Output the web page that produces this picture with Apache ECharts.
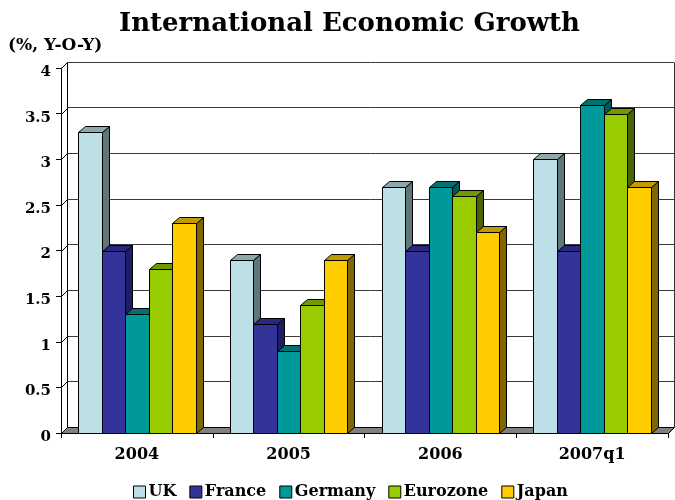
<!DOCTYPE html>
<html>
<head>
<meta charset="utf-8">
<script src="https://cdn.jsdelivr.net/npm/echarts@6/dist/echarts.min.js"></script>
<style>html,body{margin:0;padding:0;background:#fff}#c{width:675px;height:500px}</style>
</head>
<body>
<div id="c"></div>
<script>
const categories = ['2004', '2005', '2006', '2007q1'];
const seriesNames = ['UK', 'France', 'Germany', 'Eurozone', 'Japan'];
const uk = [3.3, 1.9, 2.7, 3.0];
const france = [2.0, 1.2, 2.0, 2.0];
const germany = [1.3, 0.9, 2.7, 3.6];
const eurozone = [1.8, 1.4, 2.6, 3.5];
const japan = [2.3, 1.9, 2.2, 2.7];
const yTicks = [0, 0.5, 1, 1.5, 2, 2.5, 3, 3.5, 4];

const FONT = 'DejaVu Serif';
const faceColors = [
  {front: '#BDE0E6', side: '#5F7778', top: '#8FA8AC'},
  {front: '#333399', side: '#1E1E66', top: '#28287F'},
  {front: '#009999', side: '#005A5A', top: '#007070'},
  {front: '#99CC00', side: '#4B6400', top: '#739900'},
  {front: '#FFCC00', side: '#806600', top: '#C09A00'}
];
const WDX = 6, WDY = 6;   // wall depth
const BDX = 7, BDY = 6;   // bar depth

function barRenderer(sIdx) {
  const c = faceColors[sIdx];
  return function (params, api) {
    const ci = api.value(0), v = api.value(1);
    const base = api.coord([ci, 0]);
    const tp = api.coord([ci, v]);
    const band = api.size([1, 0])[0];
    const groupW = band * 0.775;
    const w = groupW / 5;
    const x0 = Math.round(base[0] - groupW / 2 + sIdx * w) + 0.5;
    const x1 = Math.round(base[0] - groupW / 2 + (sIdx + 1) * w) + 0.5;
    const y0 = Math.round(base[1]) + 0.5;
    const y1 = Math.round(tp[1]) + 0.5;
    const st = {stroke: '#000', lineWidth: 1};
    return {
      type: 'group',
      children: [
        {type: 'polygon', shape: {points: [[x1, y1], [x1 + BDX, y1 - BDY], [x1 + BDX, y0 - BDY], [x1, y0]]},
          style: Object.assign({fill: c.side}, st)},
        {type: 'polygon', shape: {points: [[x0, y1], [x0 + BDX, y1 - BDY], [x1 + BDX, y1 - BDY], [x1, y1]]},
          style: Object.assign({fill: c.top}, st)},
        {type: 'rect', shape: {x: x0, y: y1, width: x1 - x0, height: y0 - y1},
          style: Object.assign({fill: c.front}, st)}
      ]
    };
  };
}

function wallRenderer(params, api) {
  const cs = params.coordSys;
  const t = api.value(1);
  const p = api.coord([0, t]);
  const xl = Math.round(cs.x) + 0.5;
  const y = Math.round(p[1]) + 0.5;
  const children = [
    {type: 'line', shape: {x1: xl, y1: y, x2: xl + WDX, y2: y - WDY}, style: {stroke: '#000', lineWidth: 1}}
  ];
  if (t === 0) {
    const xr = Math.round(cs.x + cs.width) + 0.5;
    const yTop = Math.round(cs.y) + 0.5;
    children.unshift({type: 'polygon', shape: {points: [[xl, y], [xl + WDX, y - WDY], [xr + WDX, y - WDY], [xr, y]]},
      style: {fill: '#808080', stroke: '#000', lineWidth: 1}});
    children.push({type: 'line', shape: {x1: xl + WDX, y1: y - WDY, x2: xl + WDX, y2: yTop - WDY}, style: {stroke: '#000', lineWidth: 1}});
    children.push({type: 'line', shape: {x1: xr + WDX, y1: y - WDY, x2: xr + WDX, y2: yTop - WDY}, style: {stroke: '#333', lineWidth: 1}});
  }
  return {type: 'group', children: children};
}

const chart = echarts.init(document.getElementById('c'), null, {renderer: 'canvas'});
const barSeries = [uk, france, germany, eurozone, japan].map(function (arr, s) {
  return {
    name: seriesNames[s],
    type: 'custom',
    xAxisIndex: 0, yAxisIndex: 0,
    renderItem: barRenderer(s),
    itemStyle: {color: faceColors[s].front, borderColor: '#000', borderWidth: 1},
    encode: {x: 0, y: 1},
    data: arr.map(function (v, i) { return [i, v]; }),
    z: 3 + s
  };
});

chart.setOption({
  animation: false,
  title: {
    text: 'International Economic Growth',
    left: 114, top: 6,
    textStyle: {fontFamily: FONT, fontWeight: 'bold', fontSize: 26, color: '#000'}
  },
  legend: {
    data: seriesNames,
    top: 479, left: 128,
    icon: 'rect', itemWidth: 12, itemHeight: 12, itemGap: 13,
    textStyle: {fontFamily: FONT, fontWeight: 'bold', fontSize: 16, color: '#000', padding: [0, 0, 0, -2]},
    itemStyle: {borderColor: '#000', borderWidth: 1}
  },
  grid: [
    {left: 61, right: 7, top: 68, bottom: 67},
    {left: 67, right: 1, top: 62, bottom: 73}
  ],
  xAxis: [
    {type: 'category', gridIndex: 0, data: categories,
      axisLine: {show: true, lineStyle: {color: '#000', width: 1}},
      axisTick: {show: true, length: 5, lineStyle: {color: '#000'}},
      axisLabel: {fontFamily: FONT, fontWeight: 'bold', fontSize: 16, color: '#000', margin: 14},
      splitLine: {show: false}},
    {type: 'category', gridIndex: 1, data: categories, show: false}
  ],
  yAxis: [
    {type: 'value', gridIndex: 0, min: 0, max: 4, interval: 0.5,
      name: '(%, Y-O-Y)', nameLocation: 'end', nameGap: 14,
      nameTextStyle: {fontFamily: FONT, fontWeight: 'bold', fontSize: 17, color: '#000', align: 'left', padding: [0, 0, 0, -53]},
      axisLine: {show: true, lineStyle: {color: '#000', width: 1}},
      axisTick: {show: true, length: 5, lineStyle: {color: '#000'}},
      axisLabel: {fontFamily: FONT, fontWeight: 'bold', fontSize: 15, color: '#000', margin: 10,
        verticalAlign: 'top', lineHeight: 8,
        formatter: function (v) { return String(v); }},
      splitLine: {show: false}},
    {type: 'value', gridIndex: 1, min: 0, max: 4, interval: 0.5,
      axisLine: {show: false}, axisTick: {show: false}, axisLabel: {show: false},
      splitLine: {show: true, lineStyle: {color: '#3a3a3a', width: 1}}}
  ],
  series: [
    {type: 'custom', name: 'walls', xAxisIndex: 0, yAxisIndex: 0, renderItem: wallRenderer,
      encode: {x: 0, y: 1}, data: yTicks.map(function (t) { return [0, t]; }), z: 1, silent: true}
  ].concat(barSeries)
});
</script>
</body>
</html>
